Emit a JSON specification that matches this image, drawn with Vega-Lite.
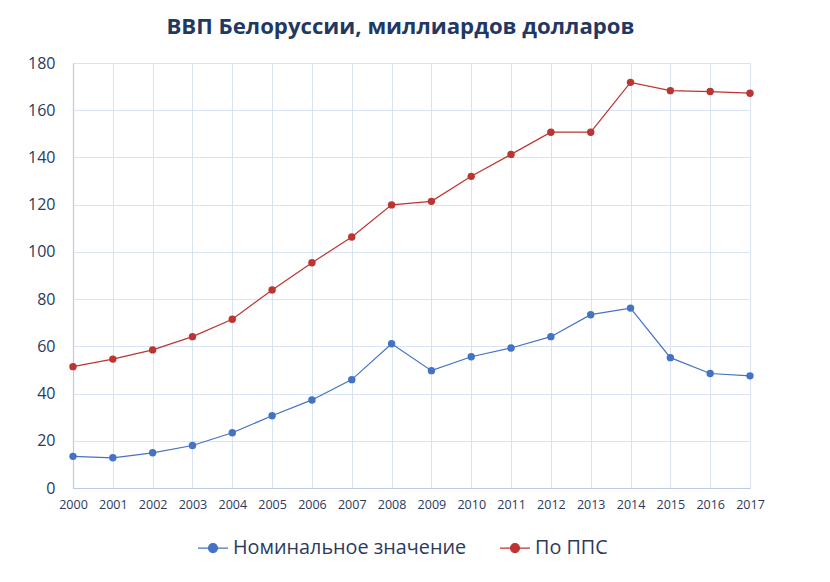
{
  "$schema": "https://vega.github.io/schema/vega-lite/v6.json",
  "autosize": {"type": "none"},
  "padding": {"left": 73, "top": 63, "right": 80, "bottom": 94},
  "width": 677,
  "height": 425,
  "background": "white",
  "title": {
    "text": "ВВП Белоруссии, миллиардов долларов",
    "font": "Open Sans",
    "fontSize": 22.2,
    "fontWeight": "bold",
    "color": "#1F3864",
    "anchor": "middle",
    "dx": -11,
    "offset": 17
  },
  "data": {
    "values": [
      {"year": "2000", "series": "Номинальное значение", "value": 13.4},
      {"year": "2001", "series": "Номинальное значение", "value": 12.8},
      {"year": "2002", "series": "Номинальное значение", "value": 14.9},
      {"year": "2003", "series": "Номинальное значение", "value": 18.0},
      {"year": "2004", "series": "Номинальное значение", "value": 23.4},
      {"year": "2005", "series": "Номинальное значение", "value": 30.6},
      {"year": "2006", "series": "Номинальное значение", "value": 37.3},
      {"year": "2007", "series": "Номинальное значение", "value": 45.9},
      {"year": "2008", "series": "Номинальное значение", "value": 61.1},
      {"year": "2009", "series": "Номинальное значение", "value": 49.7},
      {"year": "2010", "series": "Номинальное значение", "value": 55.6},
      {"year": "2011", "series": "Номинальное значение", "value": 59.3},
      {"year": "2012", "series": "Номинальное значение", "value": 64.1},
      {"year": "2013", "series": "Номинальное значение", "value": 73.4},
      {"year": "2014", "series": "Номинальное значение", "value": 76.2},
      {"year": "2015", "series": "Номинальное значение", "value": 55.2},
      {"year": "2016", "series": "Номинальное значение", "value": 48.5},
      {"year": "2017", "series": "Номинальное значение", "value": 47.5},
      {"year": "2000", "series": "По ППС", "value": 51.4},
      {"year": "2001", "series": "По ППС", "value": 54.6},
      {"year": "2002", "series": "По ППС", "value": 58.5},
      {"year": "2003", "series": "По ППС", "value": 64.1},
      {"year": "2004", "series": "По ППС", "value": 71.5},
      {"year": "2005", "series": "По ППС", "value": 83.9},
      {"year": "2006", "series": "По ППС", "value": 95.4},
      {"year": "2007", "series": "По ППС", "value": 106.3},
      {"year": "2008", "series": "По ППС", "value": 119.9},
      {"year": "2009", "series": "По ППС", "value": 121.4},
      {"year": "2010", "series": "По ППС", "value": 132.0},
      {"year": "2011", "series": "По ППС", "value": 141.3},
      {"year": "2012", "series": "По ППС", "value": 150.7},
      {"year": "2013", "series": "По ППС", "value": 150.7},
      {"year": "2014", "series": "По ППС", "value": 171.8},
      {"year": "2015", "series": "По ППС", "value": 168.3},
      {"year": "2016", "series": "По ППС", "value": 167.9},
      {"year": "2017", "series": "По ППС", "value": 167.2}
    ]
  },
  "mark": {
    "type": "line",
    "strokeWidth": 1.2,
    "point": {"filled": true, "size": 55, "opacity": 1}
  },
  "encoding": {
    "x": {
      "field": "year",
      "type": "ordinal",
      "scale": {"type": "point", "padding": 0},
      "axis": {
        "title": null,
        "labelAngle": 0,
        "labelFont": "Open Sans",
        "labelFontSize": 12.5,
        "labelColor": "#2B3A5C",
        "labelPadding": 10,
        "ticks": false,
        "grid": true,
        "gridColor": "#D9E3F1",
        "domainColor": "#B9CBE6",
        "domainWidth": 1.2
      }
    },
    "y": {
      "field": "value",
      "type": "quantitative",
      "scale": {"domain": [0, 180], "nice": false},
      "axis": {
        "title": null,
        "values": [0, 20, 40, 60, 80, 100, 120, 140, 160, 180],
        "labelFont": "Open Sans",
        "labelFontSize": 16,
        "labelColor": "#2B3A5C",
        "labelPadding": 18,
        "ticks": false,
        "grid": true,
        "gridColor": "#D9E3F1",
        "domainColor": "#B9CBE6",
        "domainWidth": 1.2
      }
    },
    "color": {
      "field": "series",
      "type": "nominal",
      "sort": ["Номинальное значение", "По ППС"],
      "scale": {"domain": ["Номинальное значение", "По ППС"], "range": ["#4472C4", "#BC3531"]},
      "legend": {
        "title": null,
        "orient": "none",
        "legendX": 124,
        "legendY": 469,
        "direction": "horizontal",
        "labelFont": "Open Sans",
        "labelFontSize": 19.8,
        "labelColor": "#2B3A5C",
        "labelLimit": 400,
        "symbolType": "M-1,0H1M0.3,0A0.3,0.3 0 1,1 -0.3,0A0.3,0.3 0 1,1 0.3,0Z",
        "symbolSize": 900,
        "symbolStrokeWidth": 1.2,
        "columnPadding": 30,
        "labelOffset": 4,
        "encode": {
          "symbols": {
            "update": {
              "fill": {"scale": "color", "field": "value"},
              "stroke": {"scale": "color", "field": "value"},
              "opacity": {"value": 1}
            }
          }
        }
      }
    }
  },
  "config": {
    "view": {"stroke": null}
  }
}
